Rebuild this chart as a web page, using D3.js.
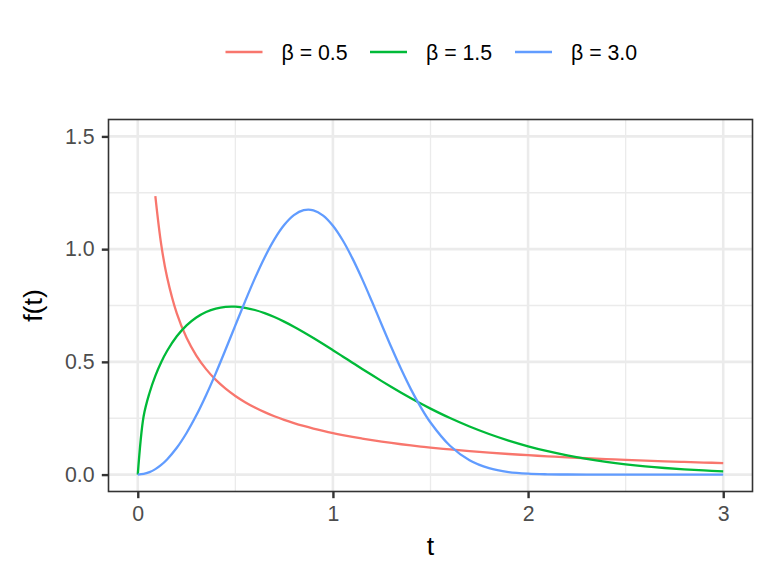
<!DOCTYPE html>
<html>
<head>
<meta charset="utf-8">
<script src="https://cdn.jsdelivr.net/npm/d3@7"></script>
<style>
  html, body { margin: 0; padding: 0; background: #fff; }
  svg { display: block; font-family: "Liberation Sans", Arial, sans-serif; }
</style>
</head>
<body>
<svg id="chart" width="768" height="576"></svg>
<script>
// ---- data (Weibull densities) ----
const tValues = [0, 0.03, 0.06, 0.09, 0.12, 0.15, 0.2, 0.25, 0.3, 0.35, 0.4, 0.45, 0.5,
  0.55, 0.6, 0.65, 0.7, 0.75, 0.8, 0.85, 0.9, 0.95, 1.0, 1.05, 1.1, 1.15, 1.2, 1.25,
  1.3, 1.35, 1.4, 1.45, 1.5, 1.6, 1.7, 1.8, 1.9, 2.0, 2.1, 2.2, 2.3, 2.4, 2.5, 2.6,
  2.7, 2.8, 2.9, 3.0];

// beta = 0.5 (values above 1.5 are outside the axis limits and are missing)
const beta05 = [null, null, null, 1.2347, 1.0208, 0.8764, 0.7149, 0.6065, 0.5279, 0.4677,
  0.4200, 0.3811, 0.3487, 0.3212, 0.2975, 0.2769, 0.2589, 0.2428, 0.2285, 0.2157,
  0.2041, 0.1936, 0.1839, 0.1751, 0.1670, 0.1596, 0.1526, 0.1462, 0.1402, 0.1346,
  0.1294, 0.1245, 0.1200, 0.1116, 0.1041, 0.0974, 0.0914, 0.0860, 0.0810, 0.0765,
  0.0724, 0.0686, 0.0651, 0.0618, 0.0588, 0.0561, 0.0535, 0.0511];

const beta15 = [0, 0.2585, 0.3621, 0.4380, 0.4985, 0.5482, 0.6134, 0.6619, 0.6971, 0.7214,
  0.7366, 0.7441, 0.7448, 0.7398, 0.7300, 0.7161, 0.6987, 0.6785, 0.6560, 0.6316,
  0.6059, 0.5792, 0.5518, 0.5241, 0.4963, 0.4686, 0.4414, 0.4146, 0.3885, 0.3631,
  0.3387, 0.3151, 0.2926, 0.2507, 0.2131, 0.1799, 0.1507, 0.1255, 0.1036, 0.0851,
  0.0695, 0.0564, 0.0455, 0.0365, 0.0292, 0.0232, 0.0183, 0.0144];

const beta30 = [0, 0.0027, 0.0108, 0.0243, 0.0431, 0.0673, 0.1190, 0.1846, 0.2628, 0.3521,
  0.4502, 0.5546, 0.6619, 0.7684, 0.8702, 0.9631, 1.0432, 1.1067, 1.1507, 1.1728,
  1.1722, 1.1487, 1.1036, 1.0393, 0.9590, 0.8670, 0.7674, 0.6649, 0.5635, 0.4670,
  0.3781, 0.2992, 0.2310, 0.1278, 0.0637, 0.0285, 0.0114, 0.0040, 0.0013, 0.0003,
  0.0001, 0, 0, 0, 0, 0, 0, 0];

const seriesNames = ["β = 0.5", "β = 1.5", "β = 3.0"];
const seriesColors = ["#F8766D", "#00BA38", "#619CFF"];
const xTicks = [0, 1, 2, 3];
const xMinor = [0.5, 1.5, 2.5];
const yTicks = [0, 0.5, 1.0, 1.5];
const yMinor = [0.25, 0.75, 1.25];
const xLabel = "t";
const yLabel = "f(t)";

// ---- layout ----
const svg = d3.select("#chart");
const panel = { left: 108.5, right: 752.5, top: 119.5, bottom: 491.5 };

const x = d3.scaleLinear().domain([-0.15, 3.15]).range([panel.left, panel.right]);
const y = d3.scaleLinear().domain([-0.075, 1.575]).range([panel.bottom, panel.top]);

const g = svg.append("g");

// minor grid
g.selectAll(".xminor").data(xMinor).enter().append("line")
  .attr("x1", d => x(d)).attr("x2", d => x(d))
  .attr("y1", panel.top).attr("y2", panel.bottom)
  .attr("stroke", "#EBEBEB").attr("stroke-width", 1.3);
g.selectAll(".yminor").data(yMinor).enter().append("line")
  .attr("y1", d => y(d)).attr("y2", d => y(d))
  .attr("x1", panel.left).attr("x2", panel.right)
  .attr("stroke", "#EBEBEB").attr("stroke-width", 1.3);
// major grid
g.selectAll(".xmajor").data(xTicks).enter().append("line")
  .attr("x1", d => x(d)).attr("x2", d => x(d))
  .attr("y1", panel.top).attr("y2", panel.bottom)
  .attr("stroke", "#EBEBEB").attr("stroke-width", 2.6);
g.selectAll(".ymajor").data(yTicks).enter().append("line")
  .attr("y1", d => y(d)).attr("y2", d => y(d))
  .attr("x1", panel.left).attr("x2", panel.right)
  .attr("stroke", "#EBEBEB").attr("stroke-width", 2.6);

// lines
const series = [beta05, beta15, beta30];
const line = d3.line()
  .defined(d => d[1] !== null)
  .x(d => x(d[0])).y(d => y(d[1]))
  .curve(d3.curveCatmullRom.alpha(0.5));

series.forEach((vals, i) => {
  const pts = tValues.map((t, j) => [t, vals[j]]);
  g.append("path")
    .attr("d", line(pts))
    .attr("fill", "none")
    .attr("stroke", seriesColors[i])
    .attr("stroke-width", 2.3)
    .attr("stroke-linejoin", "round");
});

// panel border
g.append("rect")
  .attr("x", panel.left).attr("y", panel.top)
  .attr("width", panel.right - panel.left).attr("height", panel.bottom - panel.top)
  .attr("fill", "none").attr("stroke", "#333333").attr("stroke-width", 1.6);

// axes
const xAxis = d3.axisBottom(x).tickValues(xTicks).tickFormat(d3.format("d"))
  .tickSize(6.7).tickPadding(8);
const yAxis = d3.axisLeft(y).tickValues(yTicks).tickFormat(d3.format(".1f"))
  .tickSize(6.7).tickPadding(7.3);

const gx = svg.append("g").attr("transform", `translate(0,${panel.bottom})`).call(xAxis);
const gy = svg.append("g").attr("transform", `translate(${panel.left},0)`).call(yAxis);
[gx, gy].forEach(ax => {
  ax.select(".domain").remove();
  ax.selectAll(".tick line").attr("stroke", "#333333").attr("stroke-width", 2.4);
  ax.selectAll(".tick text").attr("fill", "#4D4D4D")
    .style("font-size", "21.3px").style("font-family", "Liberation Sans, Arial, sans-serif");
});

// axis titles
svg.append("text")
  .attr("x", (panel.left + panel.right) / 2).attr("y", 555)
  .attr("text-anchor", "middle")
  .style("font-size", "26.7px").attr("fill", "#000")
  .text(xLabel);
svg.append("text")
  .attr("transform", `translate(42,${(panel.top + panel.bottom) / 2}) rotate(-90)`)
  .attr("text-anchor", "middle")
  .style("font-size", "26.7px").attr("fill", "#000")
  .text(yLabel);

// legend
const legendX = [225.5, 370, 515];
const legend = svg.append("g");
seriesNames.forEach((name, i) => {
  legend.append("line")
    .attr("x1", legendX[i]).attr("x2", legendX[i] + 37)
    .attr("y1", 52).attr("y2", 52)
    .attr("stroke", seriesColors[i]).attr("stroke-width", 2.3);
  legend.append("text")
    .attr("x", legendX[i] + 56).attr("y", 59.5)
    .style("font-size", "21.3px").attr("fill", "#000")
    .text(name);
});
</script>
</body>
</html>
